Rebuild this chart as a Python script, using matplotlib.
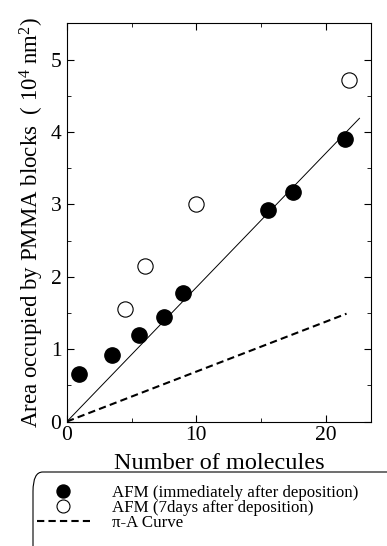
import numpy as np
import matplotlib
matplotlib.use("Agg")
import matplotlib.pyplot as plt
from matplotlib.patches import FancyBboxPatch
from matplotlib.legend_handler import HandlerLine2D

plt.rcParams['font.family'] = ['Liberation Serif', 'DejaVu Serif']
plt.rcParams['mathtext.fontset'] = 'custom'
plt.rcParams['mathtext.rm'] = 'Liberation Serif'
plt.rcParams['mathtext.it'] = 'Liberation Serif:italic'

# AFM measured right after deposition
n_fresh = [0.95, 3.5, 5.6, 7.5, 9.0, 15.5, 17.5, 21.5]
area_fresh = [0.65, 0.92, 1.20, 1.44, 1.77, 2.92, 3.17, 3.90]

# AFM measured 7 days later
n_aged = [4.5, 6.0, 10.0, 21.8]
area_aged = [1.56, 2.15, 3.00, 4.72]

# linear fit through origin and the pi-A curve
fit_n = [0.0, 22.6]
fit_area = [0.0, 4.19]
pia_n = [0.0, 21.6]
pia_area = [0.0, 1.49]

legend_labels = ['AFM (immediately after deposition)',
                 'AFM (7days after deposition)',
                 'π-A Curve']


class RightMarkerHandler(HandlerLine2D):
    """marker sits near the right end of the handle, like the original"""
    def get_xdata(self, legend, xdescent, ydescent, width, height, fontsize):
        xdata, _ = super().get_xdata(legend, xdescent, ydescent, width, height, fontsize)
        return xdata, [-xdescent + 0.83 * width]


fig = plt.figure(figsize=(3.87, 5.46), dpi=100)
ax = fig.add_axes([0.173, 0.228, 0.786, 0.729])

ax.plot(fit_n, fit_area, color='black', lw=0.7)
l_pia, = ax.plot(pia_n, pia_area, color='black', lw=1.5, ls=(0, (3.5, 2)))
l_fresh, = ax.plot(n_fresh, area_fresh, 'o', color='black', ms=11, mec='black')
l_aged, = ax.plot(n_aged, area_aged, 'o', mfc='white', mec='black', ms=11, mew=0.8)

ax.set_xlim(0, 23.5)
ax.set_ylim(0, 5.5)
ax.set_xticks([0, 10, 20])
ax.set_xticks([5, 15], minor=True)
ax.set_yticks([0, 1, 2, 3, 4, 5])
ax.set_yticks(np.arange(0.5, 5.5, 1.0), minor=True)
ax.tick_params(which='both', direction='in', top=True, right=True, labelsize=15.5)
ax.tick_params(axis='x', pad=3)
ax.tick_params(axis='y', pad=4)
ax.tick_params(which='major', length=5)
ax.tick_params(which='minor', length=3)

ax.set_xlabel('Number of molecules', fontsize=17.5, labelpad=6)
ax.set_ylabel('Area occupied by PMMA blocks  ( 10$^4$ nm$^2$)', fontsize=16.5, labelpad=3)

# legend box, partly running off the figure like the original
box = FancyBboxPatch((33 / 387, -0.2), 2.0, (546 - 472) / 546 + 0.2,
                     boxstyle='round,pad=0,rounding_size=0.025',
                     transform=fig.transFigure, fc='white', ec='black', lw=0.8,
                     mutation_aspect=546 / 387)
fig.add_artist(box)

rh = RightMarkerHandler(numpoints=1)
leg = fig.legend([l_fresh, l_aged, l_pia], legend_labels,
                 loc='upper left', bbox_to_anchor=(37 / 387, (546 - 485) / 546),
                 frameon=False, fontsize=12.2, handlelength=3.1, handletextpad=1.35,
                 labelspacing=-0.06, borderpad=0, borderaxespad=0, markerscale=0.85,
                 handler_map={l_fresh: rh, l_aged: rh})

fig.savefig('out.png', dpi=100)
